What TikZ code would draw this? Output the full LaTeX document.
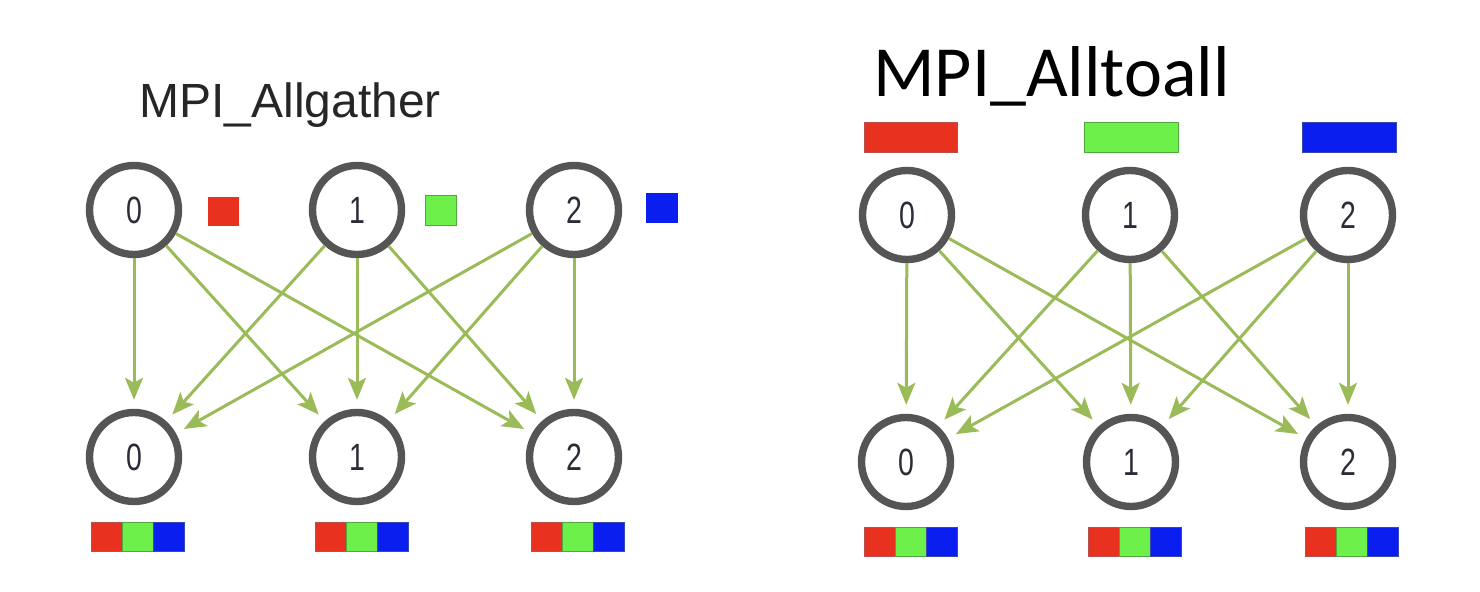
\documentclass[tikz,border=0pt]{standalone}
\usepackage{fontspec}
\setmainfont{Liberation Sans}
\newfontfamily\titlefont{Carlito}
\usetikzlibrary{arrows.meta}
\definecolor{cred}{HTML}{E8321F}
\definecolor{cgreen}{HTML}{6EF04A}
\definecolor{cblue}{HTML}{0A1EF0}
\definecolor{credb}{HTML}{B85050}
\definecolor{cgreenb}{HTML}{50A840}
\definecolor{cblueb}{HTML}{3848B0}
\definecolor{carrow}{HTML}{9BBB59}
\definecolor{cgray}{HTML}{555555}
\definecolor{cnum}{HTML}{2C2C38}
\tikzset{
  proc/.style={circle, draw=cgray, line width=3.7pt, minimum size=44.5pt, inner sep=0pt,
    text=cnum, font=\fontsize{19}{19}\selectfont},
  flow/.style={draw=carrow, line width=1.5pt, -{Stealth[length=11pt,width=9pt,inset=2.5pt]},
    shorten >=4.5pt},
  cellr/.style={fill=cred, draw=credb, line width=0.5pt},
  cellg/.style={fill=cgreen, draw=cgreenb, line width=0.5pt},
  cellb/.style={fill=cblue, draw=cblueb, line width=0.5pt},
}
\newcommand{\dg}[1]{\scalebox{0.75}[1]{#1}}
\begin{document}
\begin{tikzpicture}[x=0.5pt,y=-0.5pt]
\path[use as bounding box, fill=white] (0,0) rectangle (1480,592);

% ---------- MPI_Allgather ----------
\node[anchor=base west, inner sep=0pt, font=\fontsize{24}{24}\selectfont, text=black!85] (tA) at (139,118) {MPI\_Allgather};

\node[proc] (a0) at (134,210) {\dg{0}};
\node[proc] (a1) at (357,210) {\dg{1}};
\node[proc] (a2) at (574,210) {\dg{2}};
\node[proc] (b0) at (134,457) {\dg{0}};
\node[proc] (b1) at (357,457) {\dg{1}};
\node[proc] (b2) at (574,457) {\dg{2}};

\path[fill=cred] (208,197) rectangle (239,226);
\path[fill=cgreen, draw=cgreenb, line width=0.4pt] (425,195) rectangle (456,225);
\path[fill=cblue] (646,193) rectangle (678,223);

\foreach \x in {91,315,531}{
  \path[cellr] (\x,523) rectangle ++(31,29);
  \path[cellg] (\x+31,523) rectangle ++(31,29);
  \path[cellb] (\x+62,523) rectangle ++(31,29);
}

\foreach \i in {0,1,2}{
  \foreach \j in {0,1,2}{
    \draw[flow] (a\i) -- (b\j);
  }
}

% ---------- MPI_Alltoall ----------
\node[anchor=base west, inner sep=0pt, font=\titlefont\fontsize{36}{36}\selectfont] (tB) at (873,97) {MPI\_Alltoall};

\path[cellr] (864,123) rectangle (957,153);
\path[cellg] (1084,123) rectangle (1178,153);
\path[cellb] (1302,123) rectangle (1396,153);

\node[proc] (c0) at (907,215) {\dg{0}};
\node[proc] (c1) at (1130,215) {\dg{1}};
\node[proc] (c2) at (1348,215) {\dg{2}};
\node[proc] (d0) at (906,462) {\dg{0}};
\node[proc] (d1) at (1131,462) {\dg{1}};
\node[proc] (d2) at (1348,462) {\dg{2}};

\foreach \x in {864,1088,1305}{
  \path[cellr] (\x,528) rectangle ++(31,29);
  \path[cellg] (\x+31,528) rectangle ++(31,29);
  \path[cellb] (\x+62,528) rectangle ++(31,29);
}

\foreach \i in {0,1,2}{
  \foreach \j in {0,1,2}{
    \draw[flow] (c\i) -- (d\j);
  }
}
\end{tikzpicture}
\end{document}
